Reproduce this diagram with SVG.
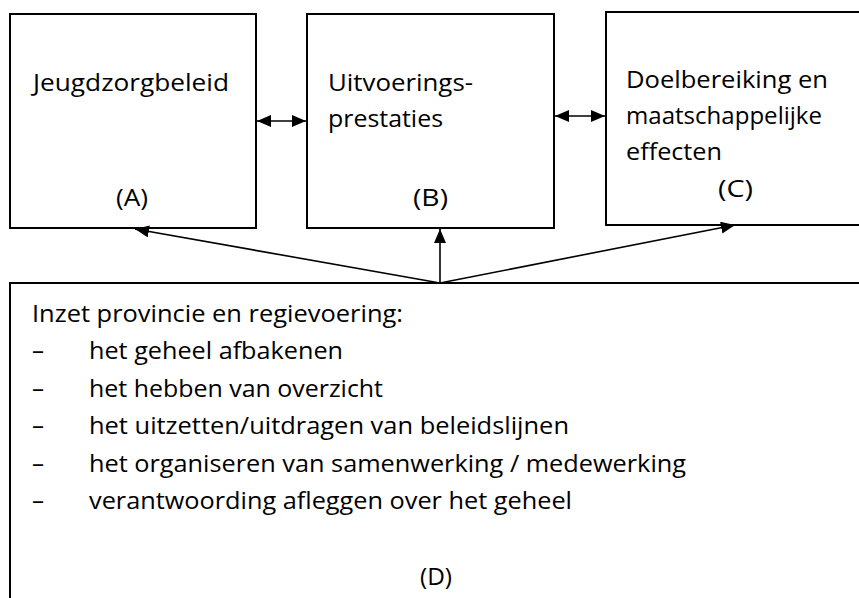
<svg xmlns="http://www.w3.org/2000/svg" width="859" height="598" viewBox="0 0 859 598">
<style>
.box{fill:#fff;stroke:#000;stroke-width:2}
.t{font-family:"Open Sans","Noto Sans",sans-serif;font-size:24px;fill:#000}
.c{stroke:#000;stroke-width:1.6;fill:none}
</style>
<defs>
<marker id="ah" viewBox="0 0 14 12" refX="14" refY="6" markerWidth="14" markerHeight="12" markerUnits="userSpaceOnUse" orient="auto-start-reverse">
<path d="M0,0 L14,6 L0,12 Z" fill="#000"/>
</marker>
</defs>
<rect width="859" height="598" fill="#fff"/>
<g id="nodeA">
<rect class="box" x="10" y="14" width="246" height="214"/>
<text class="t" x="33" y="91" textLength="196" lengthAdjust="spacingAndGlyphs">Jeugdzorgbeleid</text>
<text class="t" x="116" y="206" textLength="32" lengthAdjust="spacingAndGlyphs">(A)</text>
</g>
<g id="nodeB">
<rect class="box" x="307" y="14" width="247" height="214"/>
<text class="t" x="328" y="91" textLength="145" lengthAdjust="spacingAndGlyphs">Uitvoerings-</text>
<text class="t" x="328" y="127" textLength="115" lengthAdjust="spacingAndGlyphs">prestaties</text>
<text class="t" x="413" y="206" textLength="35" lengthAdjust="spacingAndGlyphs">(B)</text>
</g>
<g id="nodeC">
<rect class="box" x="606" y="12" width="270" height="213"/>
<text class="t" x="626" y="88" textLength="202" lengthAdjust="spacingAndGlyphs">Doelbereiking en</text>
<text class="t" x="626" y="124" textLength="196" lengthAdjust="spacingAndGlyphs">maatschappelijke</text>
<text class="t" x="626" y="160" textLength="96" lengthAdjust="spacingAndGlyphs">effecten</text>
<text class="t" x="718" y="197" textLength="35" lengthAdjust="spacingAndGlyphs">(C)</text>
</g>
<g id="nodeD">
<rect class="box" x="10" y="283" width="880" height="330"/>
<text class="t" x="32" y="322" textLength="371" lengthAdjust="spacingAndGlyphs">Inzet provincie en regievoering:</text>
<text class="t" x="32" y="359">–</text>
<text class="t" x="89" y="359" textLength="254" lengthAdjust="spacingAndGlyphs">het geheel afbakenen</text>
<text class="t" x="32" y="397">–</text>
<text class="t" x="89" y="397" textLength="294" lengthAdjust="spacingAndGlyphs">het hebben van overzicht</text>
<text class="t" x="32" y="434">–</text>
<text class="t" x="89" y="434" textLength="480" lengthAdjust="spacingAndGlyphs">het uitzetten/uitdragen van beleidslijnen</text>
<text class="t" x="32" y="472">–</text>
<text class="t" x="89" y="472" textLength="597" lengthAdjust="spacingAndGlyphs">het organiseren van samenwerking / medewerking</text>
<text class="t" x="32" y="509">–</text>
<text class="t" x="89" y="509" textLength="483" lengthAdjust="spacingAndGlyphs">verantwoording afleggen over het geheel</text>
<text class="t" x="420" y="585" textLength="32" lengthAdjust="spacingAndGlyphs">(D)</text>
</g>
<g id="connectors">
<line class="c" x1="257" y1="121" x2="306" y2="121" marker-start="url(#ah)" marker-end="url(#ah)"/>
<line class="c" x1="555" y1="116" x2="605" y2="116" marker-start="url(#ah)" marker-end="url(#ah)"/>
<line class="c" x1="440" y1="283" x2="135" y2="229" marker-end="url(#ah)"/>
<line class="c" x1="440" y1="283" x2="440" y2="229" marker-end="url(#ah)"/>
<line class="c" x1="440" y1="283" x2="735" y2="225" marker-end="url(#ah)"/>
</g>
</svg>
